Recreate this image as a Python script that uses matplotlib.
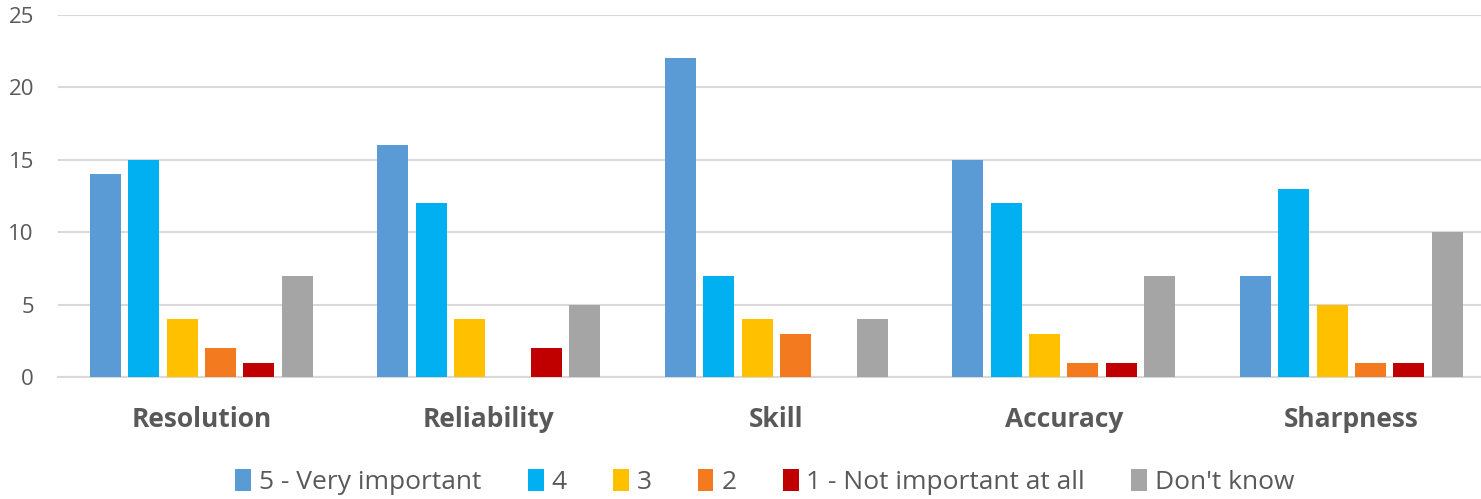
import numpy as np
import matplotlib
matplotlib.use("Agg")
import matplotlib.pyplot as plt

plt.rcParams['font.family'] = ['Open Sans', 'DejaVu Sans']

categories = ['Resolution', 'Reliability', 'Skill', 'Accuracy', 'Sharpness']
series_names = ['5 - Very important', '4', '3', '2', '1 - Not important at all', "Don't know"]
very_important = [14, 16, 22, 15, 7]
four = [15, 12, 7, 12, 13]
three = [4, 4, 4, 3, 5]
two = [2, 0, 3, 1, 1]
not_important = [1, 2, 0, 1, 1]
dont_know = [7, 5, 4, 7, 10]
colors = ['#5B9BD5', '#00B0F0', '#FFC000', '#F47A1F', '#C00000', '#A5A5A5']

series = [very_important, four, three, two, not_important, dont_know]

fig = plt.figure(figsize=(14.81, 4.99), dpi=100)
ax = fig.add_axes([57.5 / 1481, 122 / 499, 1437.5 / 1481, 362 / 499])

x = np.arange(len(categories))
pitch = 0.8 / len(series)
width = pitch * 0.81
for i, (vals, name, c) in enumerate(zip(series, series_names, colors)):
    offs = (i - (len(series) - 1) / 2) * pitch
    ax.bar(x + offs, vals, width, color=c, label=name, zorder=3)

ax.set_xlim(-0.5, len(categories) - 0.5)
ax.set_ylim(0, 25)
ax.set_yticks(range(0, 26, 5))
ax.grid(axis='y', color='#d9d9d9', linewidth=1.5, zorder=0)
for s in ['top', 'right', 'left']:
    ax.spines[s].set_visible(False)
ax.spines['bottom'].set_color('#d9d9d9')
ax.spines['bottom'].set_linewidth(1.5)
ax.tick_params(axis='both', length=0, colors='#595959')
ax.tick_params(axis='y', labelsize=16, pad=17)
ax.set_xticks(x)
ax.set_xticklabels(categories, fontsize=19, fontweight='bold', color='#595959')
ax.tick_params(axis='x', pad=21)

fig.legend(loc='center', bbox_to_anchor=(765 / 1481, 17 / 499), ncol=6,
           frameon=False, fontsize=19, handlelength=0.6, handleheight=0.9,
           handletextpad=0.3, columnspacing=1.75, labelcolor='#595959')

fig.savefig('out.png', dpi=100)
